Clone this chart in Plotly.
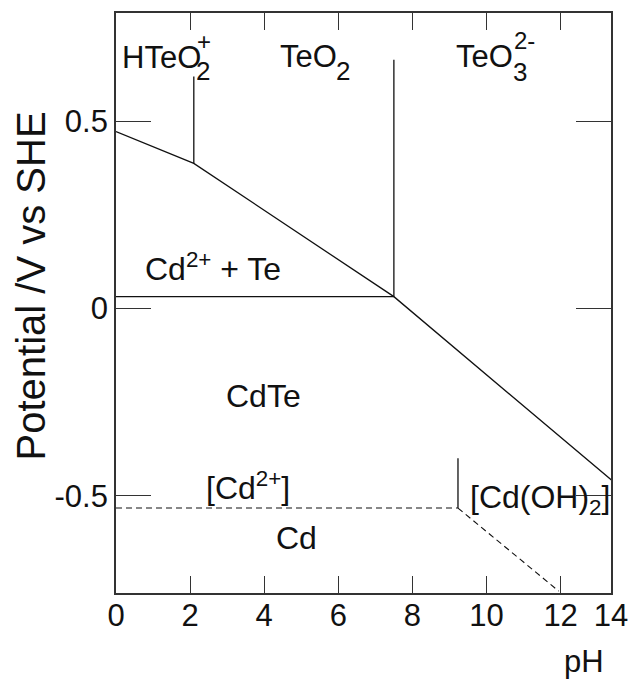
import plotly.graph_objects as go

# --- data (pH, potential V vs SHE) ---
upper_ph = [0.0, 2.1, 7.5, 13.55]
upper_e = [0.473, 0.388, 0.032, -0.473]

hteo_ph = [2.1, 2.1]
hteo_e = [0.388, 0.62]

teo2_ph = [7.5, 7.5]
teo2_e = [0.032, 0.665]

cdte_top_ph = [0.0, 7.5]
cdte_top_e = [0.032, 0.032]

cd_dash_ph = [0.0, 9.23]
cd_dash_e = [-0.533, -0.533]

cdoh_vert_ph = [9.23, 9.23]
cdoh_vert_e = [-0.533, -0.40]

cdoh_dash_ph = [9.23, 11.95]
cdoh_dash_e = [-0.533, -0.755]

x_tickvals = [0, 2, 4, 6, 8, 10, 12, 13.36]
x_ticktext = ["0", "2", "4", "6", "8", "10", "12", "14"]
y_tickvals = [-0.5, 0, 0.5]
y_ticktext = ["-0.5", "0", "0.5"]

FONT = "Liberation Sans, Arial, sans-serif"
black = "#111111"

fig = go.Figure()

def line(x, y, dash="solid", w=1.3):
    fig.add_trace(go.Scatter(x=x, y=y, mode="lines",
                             line=dict(color=black, width=w, dash=dash),
                             showlegend=False, hoverinfo="skip"))

line(upper_ph, upper_e)
line(hteo_ph, hteo_e)
line(teo2_ph, teo2_e)
line(cdte_top_ph, cdte_top_e)
line(cd_dash_ph, cd_dash_e, dash="6px,4px", w=1.1)
line(cdoh_vert_ph, cdoh_vert_e)
line(cdoh_dash_ph, cdoh_dash_e, dash="6px,4px", w=1.1)

def ann(text, x, y, size=31, xanchor="left", yanchor="middle", **kw):
    fig.add_annotation(text=text, x=x, y=y, xref="x", yref="y",
                       showarrow=False, xanchor=xanchor, yanchor=yanchor,
                       font=dict(family=FONT, size=size, color=black), **kw)

# species labels
ann("HTeO", 0.12, 0.672)
ann("2", 2.1, 0.636, size=26)
ann("+", 2.13, 0.713, size=24)
ann("TeO", 4.38, 0.674)
ann("2", 5.88, 0.636, size=26)
ann("TeO", 9.12, 0.674)
ann("3", 10.66, 0.632, size=26)
ann("2-", 10.7, 0.717, size=24)
ann("Cd<sup>2+</sup> + Te", 0.72, 0.11, size=32)
ann("CdTe", 3.99, -0.233, xanchor="center", size=32)
ann("[Cd<sup>2+</sup>]", 3.57, -0.475, xanchor="center", size=32)
ann("Cd", 4.88, -0.613, xanchor="center", size=32)
ann("[Cd(OH)<sub>2</sub>]", 11.45, -0.51, xanchor="center", size=32)

# axis titles
fig.add_annotation(text="Potential /V vs SHE", x=-0.172, y=0.53,
                   xref="paper", yref="paper", showarrow=False, textangle=-90,
                   xanchor="center", yanchor="middle",
                   font=dict(family=FONT, size=40, color=black))
fig.add_annotation(text="pH", x=0.946, y=-0.1186, xref="paper", yref="paper",
                   showarrow=False, xanchor="center", yanchor="middle",
                   font=dict(family=FONT, size=31, color=black))

axis_common = dict(showline=True, linecolor="#333333", linewidth=1.8,
                   mirror="ticks", ticks="inside", tickcolor="#333333",
                   showgrid=False, zeroline=False,
                   tickfont=dict(family=FONT, size=31, color=black))

fig.update_xaxes(range=[0, 13.36], tickvals=x_tickvals, ticktext=x_ticktext,
                 ticklen=17, tickwidth=1.3, ticklabelstandoff=-6, **axis_common)
fig.update_yaxes(range=[-0.76, 0.79], tickvals=y_tickvals, ticktext=y_ticktext,
                 ticklen=35, tickwidth=1.3, **axis_common)

fig.update_layout(width=639, height=692,
                  margin=dict(l=116, r=22, t=11, b=99),
                  paper_bgcolor="white", plot_bgcolor="white",
                  font=dict(family=FONT, color=black))

fig.write_html("out.html")
